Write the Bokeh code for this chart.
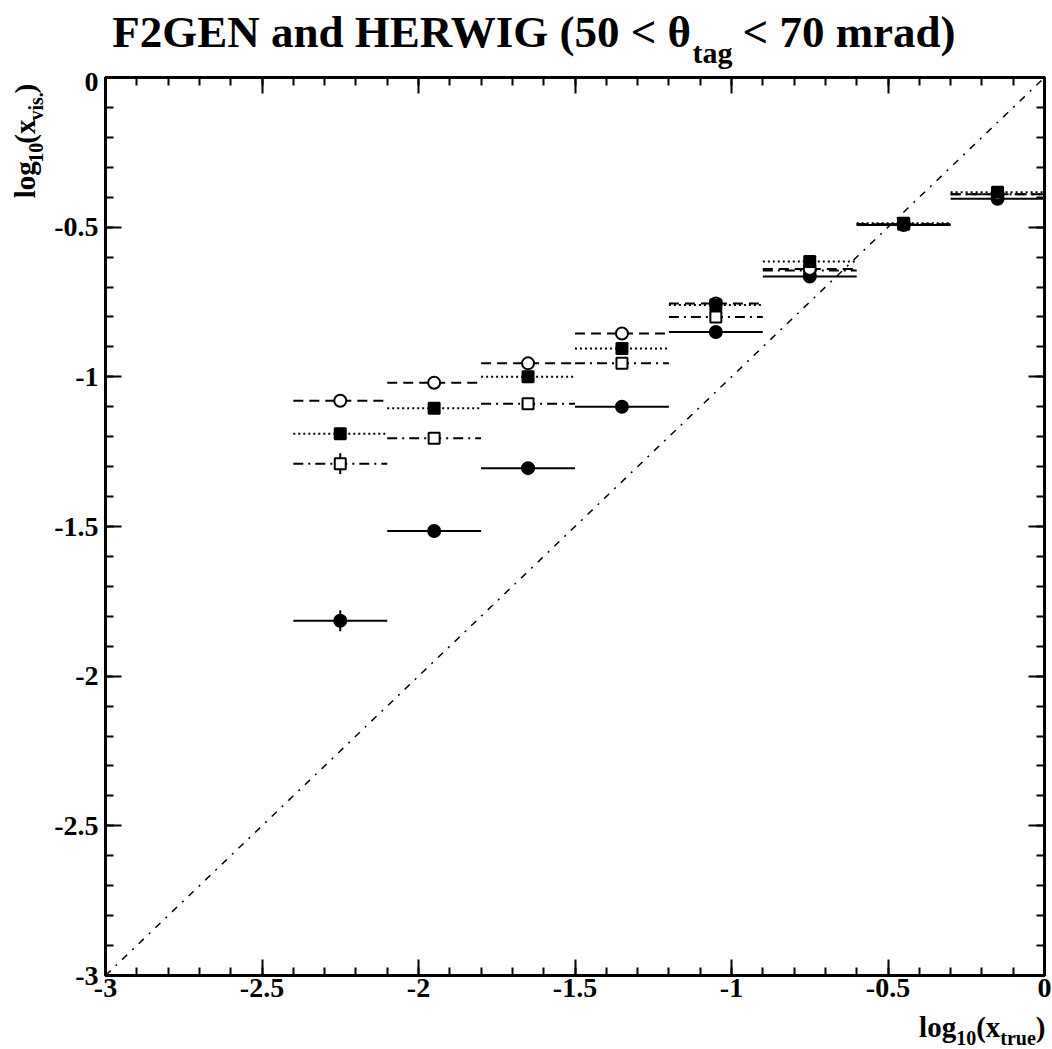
import numpy as np
from bokeh.plotting import figure
from bokeh.layouts import column, row
from bokeh.models import FixedTicker, LinearAxis, Range1d, CustomJSTickFormatter, ColumnDataSource
from bokeh.core.properties import value
from bokeh.embed import file_html
from bokeh.resources import INLINE

# ---------------- data ----------------
bin_centers = [-2.25, -1.95, -1.65, -1.35, -1.05, -0.75, -0.45, -0.15]
bin_half_width = 0.15

open_circle_y = [-1.08, -1.02, -0.955, -0.855, -0.755, -0.64, -0.49, -0.39]
open_circle_err = [0.02, 0.01, 0.01, 0.01, 0.01, 0.01, 0.01, 0.01]

filled_square_y = [-1.19, -1.105, -1.00, -0.905, -0.76, -0.615, -0.487, -0.383]
filled_square_err = [0.02, 0.01, 0.01, 0.01, 0.01, 0.01, 0.01, 0.01]

open_square_y = [-1.29, -1.205, -1.09, -0.955, -0.80, -0.645, -0.49, -0.39]
open_square_err = [0.035, 0.015, 0.01, 0.01, 0.01, 0.01, 0.01, 0.01]

filled_circle_y = [-1.815, -1.515, -1.305, -1.10, -0.85, -0.665, -0.493, -0.405]
filled_circle_err = [0.035, 0.02, 0.01, 0.01, 0.01, 0.01, 0.01, 0.01]

diag_x = [-3.0, 0.0]
diag_y = [-3.0, 0.0]

major_ticks = [-3, -2.5, -2, -1.5, -1, -0.5, 0]
tick_labels = ["-3", "-2.5", "-2", "-1.5", "-1", "-0.5", "0"]
minor_ticks = [round(-3 + 0.1 * i, 1) for i in range(31)]

title_pieces = ["F2GEN and HERWIG (50 < θ", "tag", " < 70 mrad)"]
xlabel_pieces = ["log", "10", "(x", "true", ")"]
ylabel_pieces = ["log", "10", "(x", "vis.", ")"]

# ---------------- layout (page pixels) ----------------
W, H = 1052, 1049
FL, FR, FT, FB = 105, 1044, 77, 975      # frame edges on the page
TITLE_H = 72                              # title strip height
XLAB_H = 39                               # x-label strip height
YLAB_W = 46                               # y-label strip width
MID_H = H - TITLE_H - XLAB_H
FONT = "Liberation Serif"
BASE_SHIFT = 0.3                          # compensation of the text baseline placement

p = figure(width=W - YLAB_W, height=MID_H, output_backend="svg", toolbar_location=None,
           title_location=None,
           x_range=Range1d(-3, 0), y_range=Range1d(-3, 0),
           min_border_left=FL - YLAB_W, min_border_right=W - FR,
           min_border_top=FT - TITLE_H, min_border_bottom=(TITLE_H + MID_H) - FB,
           x_axis_location=None, y_axis_location=None)
p.grid.visible = False
p.outline_line_color = "black"
p.outline_line_width = 3
p.background_fill_color = "white"
p.border_fill_color = "white"

overrides = {t: s for t, s in zip(major_ticks, tick_labels)}
empty_fmt = CustomJSTickFormatter(code="return '';")


def make_axis(show_labels, standoff=6):
    ax = LinearAxis(ticker=FixedTicker(ticks=major_ticks, minor_ticks=minor_ticks))
    ax.axis_line_width = 3
    ax.major_tick_line_width = 2
    ax.minor_tick_line_width = 2
    ax.major_tick_in = 16
    ax.major_tick_out = 0
    ax.minor_tick_in = 8
    ax.minor_tick_out = 0
    if show_labels:
        ax.major_label_overrides = overrides
        ax.major_label_text_font = FONT
        ax.major_label_text_font_style = "bold"
        ax.major_label_text_font_size = "28px"
        ax.major_label_text_color = "black"
        ax.major_label_standoff = standoff
    else:
        ax.formatter = empty_fmt
        ax.major_label_standoff = 0
        ax.major_label_text_font_size = "0px"
    return ax


p.add_layout(make_axis(True, 3), "below")
p.add_layout(make_axis(True, 7), "left")
p.add_layout(make_axis(False), "above")
p.add_layout(make_axis(False), "right")

# ---------------- series ----------------
xs = np.array(bin_centers)
series = [
    # y, err, line_dash, marker, filled
    (open_square_y, open_square_err, "10 5 2 5", "square", False),
    (filled_circle_y, filled_circle_err, "solid", "circle", True),
    (open_circle_y, open_circle_err, "10 6", "circle", False),
    (filled_square_y, filled_square_err, "2 3", "square", True),
]

for ys, errs, dash, marker, filled in series:
    ys = np.array(ys)
    errs = np.array(errs)
    src = ColumnDataSource(dict(x=xs, y=ys, x0=xs - bin_half_width, x1=xs + bin_half_width,
                                ylo=ys - errs, yhi=ys + errs))
    p.segment(x0="x0", y0="y", x1="x1", y1="y", source=src, line_color="black",
              line_width=2, line_dash=dash)
    p.segment(x0="x", y0="ylo", x1="x", y1="yhi", source=src, line_color="black", line_width=2)
    p.scatter(x="x", y="y", source=src, marker=marker,
              size=12 if marker == "circle" else 11,
              fill_color="black" if filled else "white",
              line_color="black", line_width=2)

p.line(diag_x, diag_y, line_color="black", line_width=1.5, line_dash="7 7 2 7")

# ---------------- text strips ----------------
TW = {'F': .611, '2': .5, 'G': .778, 'E': .667, 'N': .722, ' ': .25, 'a': .5, 'n': .556,
      'd': .556, 'H': .778, 'R': .722, 'W': 1.0, 'I': .389, '(': .333, '5': .5, '0': .5,
      '<': .57, 'θ': .52, 't': .333, 'g': .5, '7': .5, 'm': .833, 'r': .444, ')': .333,
      'l': .278, 'o': .5, 'x': .5, '1': .5, 'u': .556, 'e': .444, 'v': .5, 'i': .278,
      's': .389, '.': .25}


def tw(s, size):
    return sum(TW.get(c, .5) for c in s) * size


def strip(w, h, left, top):
    f = figure(width=w, height=h, output_backend="svg", toolbar_location=None,
               title_location=None,
               x_range=Range1d(left, left + w), y_range=Range1d(-(top + h), -top),
               min_border=0, x_axis_location=None, y_axis_location=None)
    f.grid.visible = False
    f.outline_line_color = None
    f.background_fill_color = "white"
    f.border_fill_color = "white"
    return f


def put(f, txt, px, py, size, angle=0.0):
    if angle:
        px = px - BASE_SHIFT * size
    else:
        py = py - BASE_SHIFT * size
    f.text(x=[px], y=[-py], text=[txt], text_font=value(FONT), text_font_style=value("bold"),
           text_font_size=value(f"{size}px"), text_color="black", text_align="left",
           text_baseline="alphabetic", angle=angle)


# title
T_BIG, T_SUB = 45, 30
tf = strip(W, TITLE_H, 0, 0)
t_sizes = [T_BIG, T_SUB, T_BIG]
t_offs = [0, 16, 0]
t_gaps = [0, 10, 0]
total = sum(tw(s, sz) + g for s, sz, g in zip(title_pieces, t_sizes, t_gaps))
cur = 539 - total / 2
for s, sz, off, g in zip(title_pieces, t_sizes, t_offs, t_gaps):
    put(tf, s, cur, 45 + off, sz)
    cur += tw(s, sz) + g

A_BIG, A_SUB = 29, 20
a_sizes = [A_BIG, A_SUB, A_BIG, A_SUB, A_BIG]
a_offs = [0, 8, 0, 8, 0]

# x-axis label
xf = strip(W, XLAB_H, 0, TITLE_H + MID_H)
total = sum(tw(s, sz) for s, sz in zip(xlabel_pieces, a_sizes))
cur = 1045 - total
for s, sz, off in zip(xlabel_pieces, a_sizes, a_offs):
    put(xf, s, cur, 1035 + off, sz)
    cur += tw(s, sz)

# y-axis label (rotated)
yf = strip(YLAB_W, MID_H, 0, TITLE_H)
total = sum(tw(s, sz) for s, sz in zip(ylabel_pieces, a_sizes))
cur = 79 + total
for s, sz, off in zip(ylabel_pieces, a_sizes, a_offs):
    put(yf, s, 33 + off, cur, sz, angle=np.pi / 2)
    cur -= tw(s, sz)

layout = column(tf, row(yf, p), xf)
open("out.html", "w").write(file_html(layout, INLINE))
